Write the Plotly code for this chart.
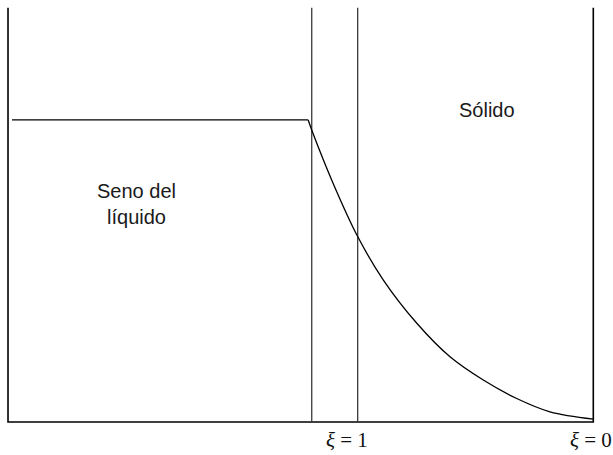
import plotly.graph_objects as go

# Dimensionless position xi (xi = 0 at the right wall) and temperature theta
xi_curve = [1.210, 1.195, 1.104, 1.000, 0.891, 0.749, 0.608, 0.467, 0.325, 0.184, 0.0]
theta_curve = [1.0, 0.967, 0.790, 0.614, 0.470, 0.327, 0.216, 0.139, 0.078, 0.034, 0.010]

# Bulk liquid plateau
xi_bulk = [2.467, 1.210]
theta_bulk = [1.0, 1.0]

# Domain limits and reference planes
xi_left = 2.484
xi_right = 0.0
theta_top = 1.371
xi_interface = 1.195
xi_one = 1.0

fig = go.Figure()

line_dark = dict(color="#000000", width=1.6)
line_grey = dict(color="#3a3a3a", width=1.3)

# Outer frame (left, bottom, right)
fig.add_trace(go.Scatter(x=[xi_left, xi_left, xi_right, xi_right],
                         y=[theta_top, 0, 0, theta_top],
                         mode="lines", line=line_dark, hoverinfo="skip"))
# Interface and xi = 1 planes
fig.add_trace(go.Scatter(x=[xi_interface, xi_interface], y=[0, theta_top],
                         mode="lines", line=line_grey, hoverinfo="skip"))
fig.add_trace(go.Scatter(x=[xi_one, xi_one], y=[0, theta_top],
                         mode="lines", line=line_grey, hoverinfo="skip"))
# Bulk plateau
fig.add_trace(go.Scatter(x=xi_bulk, y=theta_bulk, mode="lines",
                         line=dict(color="#000000", width=1.3), hoverinfo="skip"))
# Temperature profile through the solid
fig.add_trace(go.Scatter(x=xi_curve, y=theta_curve, mode="lines",
                         line=dict(color="#000000", width=1.3),
                         line_shape="spline", hoverinfo="skip"))

sans = dict(family="Liberation Sans, Arial", size=20, color="#1a1a1a")
serif = dict(family="Liberation Serif, Times New Roman", size=21, color="#111111")

fig.add_annotation(x=0.451, y=1.033, text="Sólido", showarrow=False, font=sans)
fig.add_annotation(x=1.937, y=0.722, text="Seno del<br>líquido", showarrow=False,
                   font=sans, align="center")
fig.add_annotation(x=1.045, y=-0.06, text="<i>ξ</i> = 1", showarrow=False, font=serif)
fig.add_annotation(x=0.01, y=-0.06, text="<i>ξ</i> = 0", showarrow=False, font=serif)

fig.update_layout(
    width=613, height=455,
    margin=dict(l=0, r=0, t=0, b=0),
    paper_bgcolor="white", plot_bgcolor="white",
    showlegend=False,
    xaxis=dict(range=[2.518, -0.0836], visible=False, fixedrange=True),
    yaxis=dict(range=[-0.109, 1.397], visible=False, fixedrange=True),
)

fig.write_html("out.html")
